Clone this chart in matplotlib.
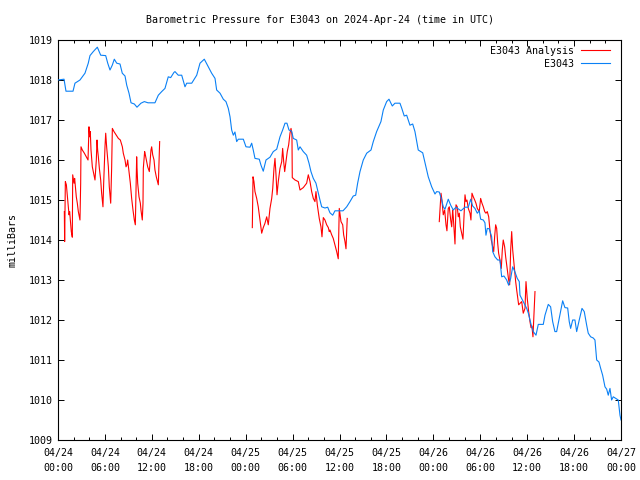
import numpy as np
import matplotlib
matplotlib.use("Agg")
import matplotlib.pyplot as plt

# ---------------- data (hours since 04/24 00:00 UTC, millibars) ----------------
blue_hours = [0.0, 0.77, 1.02, 1.92, 2.17, 2.81, 3.45, 3.87, 4.09, 4.51, 5.03, 5.46, 6.10, 6.36,
              6.65, 6.94, 7.20, 7.51, 7.93, 8.22, 8.57, 8.79, 9.08, 9.34, 9.76, 10.10, 10.61,
              11.04, 11.51, 12.40, 12.83, 13.26, 13.68, 14.10, 14.41, 14.83, 14.96, 15.38,
              15.82, 16.24, 16.46, 17.10, 17.74, 18.16, 18.71, 19.22, 19.65, 20.08, 20.29,
              20.72, 21.14, 21.48, 21.78, 22.00, 22.21, 22.42, 22.63, 22.85, 23.06, 23.70,
              24.04, 24.55, 24.77, 24.97, 25.19, 25.74, 25.96, 26.25, 26.60, 27.11, 27.53,
              27.97, 28.39, 28.73, 29.03, 29.28, 29.54, 29.88, 30.09, 30.52, 30.73, 30.95,
              31.37, 31.80, 32.10, 32.35, 32.65, 32.99, 33.29, 33.50, 33.72, 34.14, 34.49,
              34.78, 35.13, 35.42, 36.45, 36.92, 37.34, 37.76, 38.07, 38.32, 38.62, 39.04,
              39.48, 40.03, 40.32, 40.75, 41.30, 41.60, 42.03, 42.33, 42.75, 43.09, 43.73,
              43.95, 44.28, 44.59, 45.01, 45.36, 45.65, 46.07, 46.64, 47.06, 47.35, 47.79,
              48.21, 48.43, 48.76, 49.07, 49.27, 49.49, 49.91, 50.22, 50.55, 50.90, 51.53,
              52.05, 52.47, 52.78, 53.03, 53.32, 53.62, 53.87, 54.05, 54.39, 54.60, 54.73,
              54.90, 55.15, 55.46, 55.59, 55.88, 56.23, 56.52, 56.74, 57.03, 57.38, 57.63,
              57.89, 58.15, 58.44, 58.73, 58.99, 59.08, 59.50, 59.94, 60.15, 60.57, 60.78,
              61.13, 61.42, 62.06, 62.28, 62.70, 63.00, 63.26, 63.55, 63.77, 64.10, 64.54,
              64.83, 65.18, 65.38, 65.56, 65.82, 66.11, 66.33, 66.66, 67.01, 67.30, 67.61,
              67.81, 68.12, 68.45, 68.67, 68.89, 69.18, 69.40, 69.65, 69.95, 70.17, 70.37,
              70.59, 70.80, 71.01, 71.65, 71.87, 72.0]
blue_mb = [1018.00, 1018.02, 1017.72, 1017.72, 1017.92, 1018.00, 1018.17, 1018.42, 1018.61,
           1018.71, 1018.82, 1018.62, 1018.61, 1018.42, 1018.25, 1018.37, 1018.52, 1018.42,
           1018.40, 1018.17, 1018.10, 1017.87, 1017.67, 1017.43, 1017.40, 1017.32, 1017.42,
           1017.46, 1017.43, 1017.43, 1017.62, 1017.71, 1017.79, 1018.08, 1018.06, 1018.19,
           1018.21, 1018.12, 1018.12, 1017.83, 1017.92, 1017.92, 1018.12, 1018.42, 1018.52,
           1018.33, 1018.17, 1018.04, 1017.75, 1017.67, 1017.52, 1017.46, 1017.29, 1017.08,
           1016.75, 1016.62, 1016.70, 1016.46, 1016.52, 1016.52, 1016.33, 1016.32, 1016.42,
           1016.25, 1016.04, 1016.02, 1015.87, 1015.72, 1016.00, 1016.07, 1016.21, 1016.27,
           1016.58, 1016.75, 1016.92, 1016.92, 1016.75, 1016.72, 1016.54, 1016.50, 1016.25,
           1016.33, 1016.21, 1016.12, 1015.92, 1015.71, 1015.54, 1015.42, 1015.17, 1015.00,
           1014.83, 1014.80, 1014.82, 1014.68, 1014.62, 1014.73, 1014.73, 1014.83, 1014.96,
           1015.10, 1015.12, 1015.42, 1015.71, 1016.00, 1016.17, 1016.25, 1016.46, 1016.71,
           1016.96, 1017.25, 1017.46, 1017.52, 1017.35, 1017.42, 1017.42, 1017.30, 1017.10,
           1017.12, 1016.87, 1016.90, 1016.71, 1016.25, 1016.18, 1015.83, 1015.58, 1015.33,
           1015.15, 1015.21, 1015.20, 1015.00, 1014.83, 1014.77, 1015.02, 1014.87, 1014.75,
           1014.82, 1014.73, 1014.82, 1014.82, 1015.02, 1014.85, 1014.79, 1014.67, 1014.73,
           1014.52, 1014.50, 1014.43, 1014.12, 1014.29, 1014.28, 1014.08, 1013.71, 1013.58,
           1013.50, 1013.50, 1013.08, 1013.10, 1013.00, 1012.87, 1013.04, 1013.33, 1013.20,
           1013.04, 1012.96, 1012.62, 1012.46, 1012.29, 1012.17, 1011.83, 1011.71, 1011.62,
           1011.89, 1011.89, 1012.12, 1012.39, 1012.33, 1011.96, 1011.71, 1011.71, 1012.04,
           1012.48, 1012.31, 1012.30, 1011.96, 1011.79, 1012.00, 1012.00, 1011.71, 1012.00,
           1012.29, 1012.21, 1011.87, 1011.67, 1011.58, 1011.55, 1011.50, 1011.00, 1010.95,
           1010.79, 1010.62, 1010.33, 1010.27, 1010.12, 1010.29, 1010.00, 1010.08, 1010.00,
           1009.62, 1009.50]

red_seg1_hours = [0.81, 0.85, 0.94, 1.07, 1.24, 1.32, 1.41, 1.49, 1.62, 1.70, 1.83, 1.88, 2.05,
                  2.13, 2.26, 2.34, 2.47, 2.60, 2.81, 2.90, 2.94, 3.11, 3.37, 3.62, 3.84, 3.96,
                  4.05, 4.13, 4.22, 4.39, 4.56, 4.73, 4.90, 4.99, 5.07, 5.16, 5.29, 5.46, 5.58,
                  5.75, 5.84, 6.01, 6.10, 6.22, 6.31, 6.44, 6.56, 6.74, 6.86, 6.95, 7.16, 7.42,
                  7.72, 7.97, 8.23, 8.35, 8.57, 8.70, 8.82, 8.91, 9.08, 9.25, 9.42, 9.59, 9.76,
                  9.89, 9.97, 10.06, 10.10, 10.19, 10.36, 10.53, 10.61, 10.78, 10.87, 10.91,
                  11.08, 11.17, 11.30, 11.47, 11.68, 11.89, 11.98, 12.11, 12.28, 12.40, 12.57,
                  12.83, 12.92, 13.00]
red_seg1_mb = [1014.71, 1013.96, 1015.46, 1015.38, 1015.00, 1014.83, 1014.63, 1014.71, 1014.38,
               1014.21, 1014.07, 1015.63, 1015.42, 1015.54, 1015.25, 1015.08, 1014.92, 1014.71,
               1014.50, 1015.42, 1016.33, 1016.25, 1016.17, 1016.08, 1016.00, 1016.83, 1016.58,
               1016.71, 1016.25, 1015.83, 1015.67, 1015.50, 1016.00, 1016.50, 1016.25, 1016.08,
               1015.79, 1015.50, 1015.17, 1014.83, 1015.42, 1016.33, 1016.67, 1016.33, 1016.13,
               1015.83, 1015.33, 1014.92, 1015.80, 1016.79, 1016.71, 1016.63, 1016.54, 1016.50,
               1016.33, 1016.17, 1016.00, 1015.83, 1015.88, 1016.00, 1015.71, 1015.42, 1015.04,
               1014.75, 1014.50, 1014.38, 1015.20, 1016.08, 1015.83, 1015.42, 1015.08, 1014.92,
               1014.75, 1014.50, 1014.92, 1015.79, 1016.21, 1016.13, 1016.00, 1015.83, 1015.71,
               1016.25, 1016.33, 1016.13, 1016.00, 1015.75, 1015.58, 1015.38, 1015.92, 1016.46]

red_seg2_hours = [24.85, 24.94, 25.06, 25.19, 25.41, 25.61, 25.83, 26.05, 26.25, 26.47, 26.69,
                  26.89, 27.11, 27.33, 27.46, 27.62, 27.75, 27.88, 28.01, 28.17, 28.39, 28.61,
                  28.73, 28.86, 28.99, 29.16, 29.32, 29.50, 29.67, 29.80, 29.92, 29.96, 30.31,
                  30.73, 30.95, 31.37, 31.80, 32.01, 32.23, 32.44, 32.65, 32.86, 32.99, 33.16,
                  33.41, 33.63, 33.76, 33.93, 34.14, 34.36, 34.57, 34.69, 34.78, 35.00, 35.20,
                  35.42, 35.64, 35.84, 35.97, 36.19, 36.41, 36.53, 36.70, 36.83, 36.99]
red_seg2_mb = [1014.31, 1015.58, 1015.46, 1015.21, 1015.04, 1014.83, 1014.50, 1014.17, 1014.31,
               1014.42, 1014.58, 1014.38, 1014.79, 1015.04, 1015.29, 1015.79, 1016.04, 1015.63,
               1015.13, 1015.46, 1015.79, 1015.96, 1016.29, 1015.96, 1015.71, 1015.96, 1016.21,
               1016.38, 1016.67, 1016.79, 1016.63, 1015.56, 1015.50, 1015.46, 1015.25, 1015.31,
               1015.42, 1015.63, 1015.46, 1015.21, 1015.04, 1014.96, 1015.21, 1014.88, 1014.54,
               1014.33, 1014.08, 1014.56, 1014.50, 1014.38, 1014.31, 1014.21, 1014.25, 1014.13,
               1014.04, 1013.88, 1013.71, 1013.53, 1014.79, 1014.46, 1014.38, 1014.13, 1013.96,
               1013.78, 1014.54]

red_seg3_hours = [48.76, 48.85, 48.98, 49.10, 49.27, 49.45, 49.62, 49.74, 49.91, 50.04, 50.22,
                  50.35, 50.47, 50.55, 50.68, 50.77, 50.90, 51.06, 51.19, 51.32, 51.45, 51.62,
                  51.79, 51.92, 52.05, 52.17, 52.30, 52.47, 52.69, 52.81, 52.94, 53.11, 53.29,
                  53.45, 53.62, 53.87, 54.05, 54.22, 54.39, 54.57, 54.73, 54.90, 55.08, 55.24,
                  55.41, 55.59, 55.72, 55.84, 55.97, 56.10, 56.23, 56.35, 56.52, 56.69, 56.82,
                  56.94, 57.12, 57.25, 57.38, 57.51, 57.63, 57.76, 57.89, 58.02, 58.15, 58.27,
                  58.40, 58.53, 58.66, 58.78, 58.91, 59.30, 59.50, 59.72, 59.85, 60.01, 60.19,
                  60.36, 60.49, 60.61, 60.74, 60.87, 61.00]
red_seg3_mb = [1014.46, 1014.75, 1015.17, 1015.00, 1014.63, 1014.75, 1014.38, 1014.23, 1014.79,
               1014.83, 1014.50, 1014.33, 1014.75, 1014.58, 1014.17, 1013.90, 1014.88, 1014.83,
               1014.58, 1014.67, 1014.33, 1014.17, 1014.02, 1014.58, 1015.13, 1014.96, 1015.00,
               1014.79, 1014.67, 1014.50, 1015.17, 1015.08, 1015.00, 1014.92, 1014.79, 1014.71,
               1015.04, 1014.92, 1014.83, 1014.71, 1014.67, 1014.71, 1014.58, 1014.25, 1014.00,
               1013.83, 1013.71, 1014.08, 1014.38, 1014.29, 1013.92, 1013.67, 1013.50, 1013.29,
               1013.75, 1014.00, 1013.83, 1013.58, 1013.38, 1013.17, 1013.00, 1012.88, 1013.75,
               1014.21, 1013.75, 1013.50, 1013.21, 1012.96, 1012.75, 1012.58, 1012.38, 1012.46,
               1012.17, 1012.29, 1012.96, 1012.54, 1012.21, 1011.96, 1011.81, 1011.85, 1011.58,
               1012.13, 1012.71]

x_tick_hours = list(range(0, 73, 6))
x_tick_labels = ["04/24\n00:00", "04/24\n06:00", "04/24\n12:00", "04/24\n18:00",
                 "04/25\n00:00", "04/25\n06:00", "04/25\n12:00", "04/25\n18:00",
                 "04/26\n00:00", "04/26\n06:00", "04/26\n12:00", "04/26\n18:00",
                 "04/27\n00:00"]
y_ticks = list(range(1009, 1020))

title = "Barometric Pressure for E3043 on 2024-Apr-24 (time in UTC)"
ylabel = "milliBars"
label_red = "E3043 Analysis"
label_blue = "E3043"

# ---------------- drawing ----------------
plt.rcParams['font.family'] = ['DejaVu Sans Mono', 'DejaVu Sans']
FS = 7.2

fig = plt.figure(figsize=(6.4, 4.8), dpi=100)
ax = fig.add_axes([58 / 640, 1 - 440 / 480, (621 - 58) / 640, 400 / 480])

red_h = red_seg1_hours + [np.nan] + red_seg2_hours + [np.nan] + red_seg3_hours
red_v = red_seg1_mb + [np.nan] + red_seg2_mb + [np.nan] + red_seg3_mb

ax.plot(red_h, red_v, color='#ff0000', lw=0.8, label=label_red, zorder=2)
ax.plot(blue_hours, blue_mb, color='#0a80f5', lw=0.8, label=label_blue, zorder=3)

ax.set_xlim(0, 72)
ax.set_ylim(1009, 1019)
ax.set_xticks(x_tick_hours)
ax.set_xticklabels(x_tick_labels, fontsize=FS, linespacing=1.55)
ax.set_xticks(np.arange(0, 73, 2), minor=True)
ax.set_yticks(y_ticks)
ax.set_yticklabels([str(v) for v in y_ticks], fontsize=FS)
ax.tick_params(axis='x', which='major', direction='in', length=4.5, width=0.7,
               top=True, pad=6)
ax.tick_params(axis='y', which='major', direction='in', length=4.5, width=0.7,
               right=True, pad=4)
ax.tick_params(axis='x', which='minor', direction='in', length=2.5, width=0.7,
               top=True, bottom=True)
for s in ax.spines.values():
    s.set_linewidth(0.8)

ax.set_ylabel(ylabel, fontsize=FS, labelpad=8)
fig.text(0.5, 1 - 20 / 480, title, ha='center', va='center', fontsize=FS)

leg = ax.legend(loc='upper right', bbox_to_anchor=(0.9805, 0.985), frameon=False,
                markerfirst=False, fontsize=FS, handlelength=2.9, handletextpad=0.7,
                labelspacing=0.3, borderaxespad=0, borderpad=0)

fig.savefig("out.png", dpi=100)
